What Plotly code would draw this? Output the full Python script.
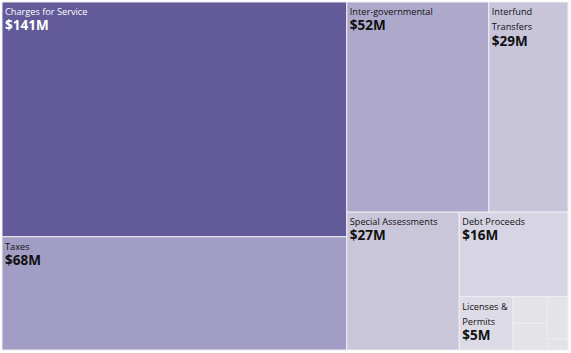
import plotly.graph_objects as go

labels = ["Charges for Service", "Taxes", "Inter-governmental", "Interfund Transfers",
          "Special Assessments", "Debt Proceeds", "Licenses & Permits",
          "Fines & Forfeitures", "Investment Earnings", "Miscellaneous", "Sale of Assets"]
display = ["Charges for Service", "Taxes", "Inter-governmental", "Interfund<br>Transfers",
           "Special Assessments", "Debt Proceeds", "Licenses &<br>Permits",
           "", "", "", ""]
values = [141, 68, 52, 29, 27, 16, 5, 1.6, 1.6, 1.5, 0.4]
colors = ["#625A99", "#A29DC5", "#AEA9CB", "#C8C5DB", "#C9C6DA", "#D7D5E3",
          "#DDDBE6", "#E3E3E8", "#E3E3E8", "#E3E3E8", "#E3E3E8"]
text_colors = ["white"] + ["#111111"] * 10

templates = []
for d in display:
    if d:
        lines = d.split("<br>")
        name = "<br>".join("<span style='font-size:9.2px'>" + l + "</span>" for l in lines)
        templates.append(name + "<br><span style='font-size:13.5px'><b>$%{value:.0f}M</b></span>")
    else:
        templates.append("")

fig = go.Figure(go.Treemap(
    labels=labels,
    parents=[""] * len(labels),
    values=values,
    sort=True,
    texttemplate=templates,
    textposition="top left",
    textfont=dict(family="Open Sans", size=11.75, color=text_colors),
    marker=dict(colors=colors, line=dict(color="#EEEEF2", width=1),
                pad=dict(t=0, l=0, r=0, b=0)),
    tiling=dict(packing="squarify", squarifyratio=1.618, pad=0),
    pathbar=dict(visible=False),
    hoverinfo="label+value",
    domain=dict(x=[0, 1], y=[0, 1]),
))
fig.update_layout(
    width=571, height=353,
    autosize=False,
    margin=dict(l=2, r=3, t=2, b=3, pad=0),
    paper_bgcolor="white",
    uniformtext=dict(minsize=11.75, mode="show"),
)
fig.write_html("out.html")
